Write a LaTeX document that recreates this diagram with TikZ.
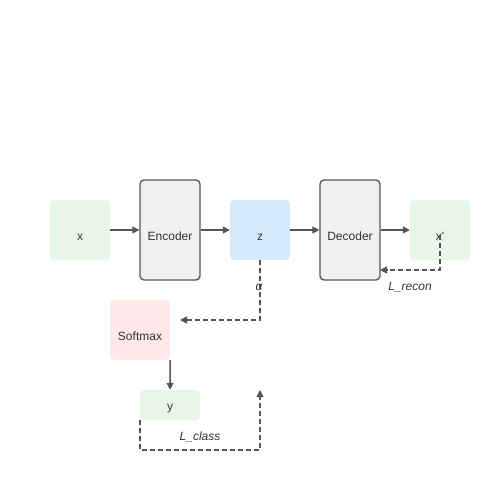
\documentclass[tikz,border=0pt]{standalone}
\usepackage{fontspec}
\setmainfont{Liberation Sans}
\usetikzlibrary{arrows.meta}
\definecolor{lineGray}{HTML}{555555}
\definecolor{textGray}{HTML}{333333}
\definecolor{greenFill}{HTML}{E8F5E9}
\definecolor{blueFill}{HTML}{D5EBFC}
\definecolor{pinkFill}{HTML}{FFE7EA}
\definecolor{boxFill}{HTML}{F0F0F0}
\begin{document}
\begin{tikzpicture}[x=1pt, y=-1pt,
    every node/.style={font=\fontsize{12}{14}\selectfont, text=textGray},
    data/.style={rectangle, rounded corners=4pt, minimum width=60pt, minimum height=60pt, inner sep=0pt, text height=20pt, text depth=0pt},
    block/.style={data, draw=lineGray, line width=1.3pt, fill=boxFill, minimum height=100pt},
    flow/.style={draw=lineGray, line width=1.5pt, -{Triangle[length=7pt,width=7pt]}},
    loss/.style={flow, dash pattern=on 5pt off 3pt},
    tag/.style={font=\fontsize{12}{14}\selectfont\itshape}]
    \useasboundingbox (0,0) rectangle (500,500);

    % main row
    \node[data, fill=greenFill] (x) at (80,230) {x};
    \node[block] (encoder) at (170,230) {Encoder};
    \node[data, fill=blueFill] (z) at (260,230) {z};
    \node[block] (decoder) at (350,230) {Decoder};
    \node[data, fill=greenFill] (xr) at (440,230) {x\textquotesingle};
    % classifier
    \node[data, fill=pinkFill] (softmax) at (140,330) {Softmax};
    \node[data, fill=greenFill, minimum height=30pt, text height=10pt] (y) at (170,405) {y};

    \draw[flow] (x) -- (encoder);
    \draw[flow] (encoder) -- (z);
    \draw[flow] (z) -- (decoder);
    \draw[flow] (decoder) -- (xr);
    \draw[flow] (softmax.south east) -- (y.north);

    % losses
    \coordinate (alphaEnd) at (180,320);
    \coordinate (reconStart) at (440,235);
    \coordinate (reconEnd) at (380,270);
    \coordinate (classEnd) at (260,390);
    \draw[loss] (z.south) |- (alphaEnd);
    \draw[loss] (reconStart) |- (reconEnd);
    \draw[loss] (y.south west) -- ++(0,30) -| (classEnd);

    \node[tag] (alphaTag) at (259,287) {α};
    \node[tag] (reconTag) at (410,287) {L\_recon};
    \node[tag] (classTag) at (200,437) {L\_class};
\end{tikzpicture}
\end{document}
